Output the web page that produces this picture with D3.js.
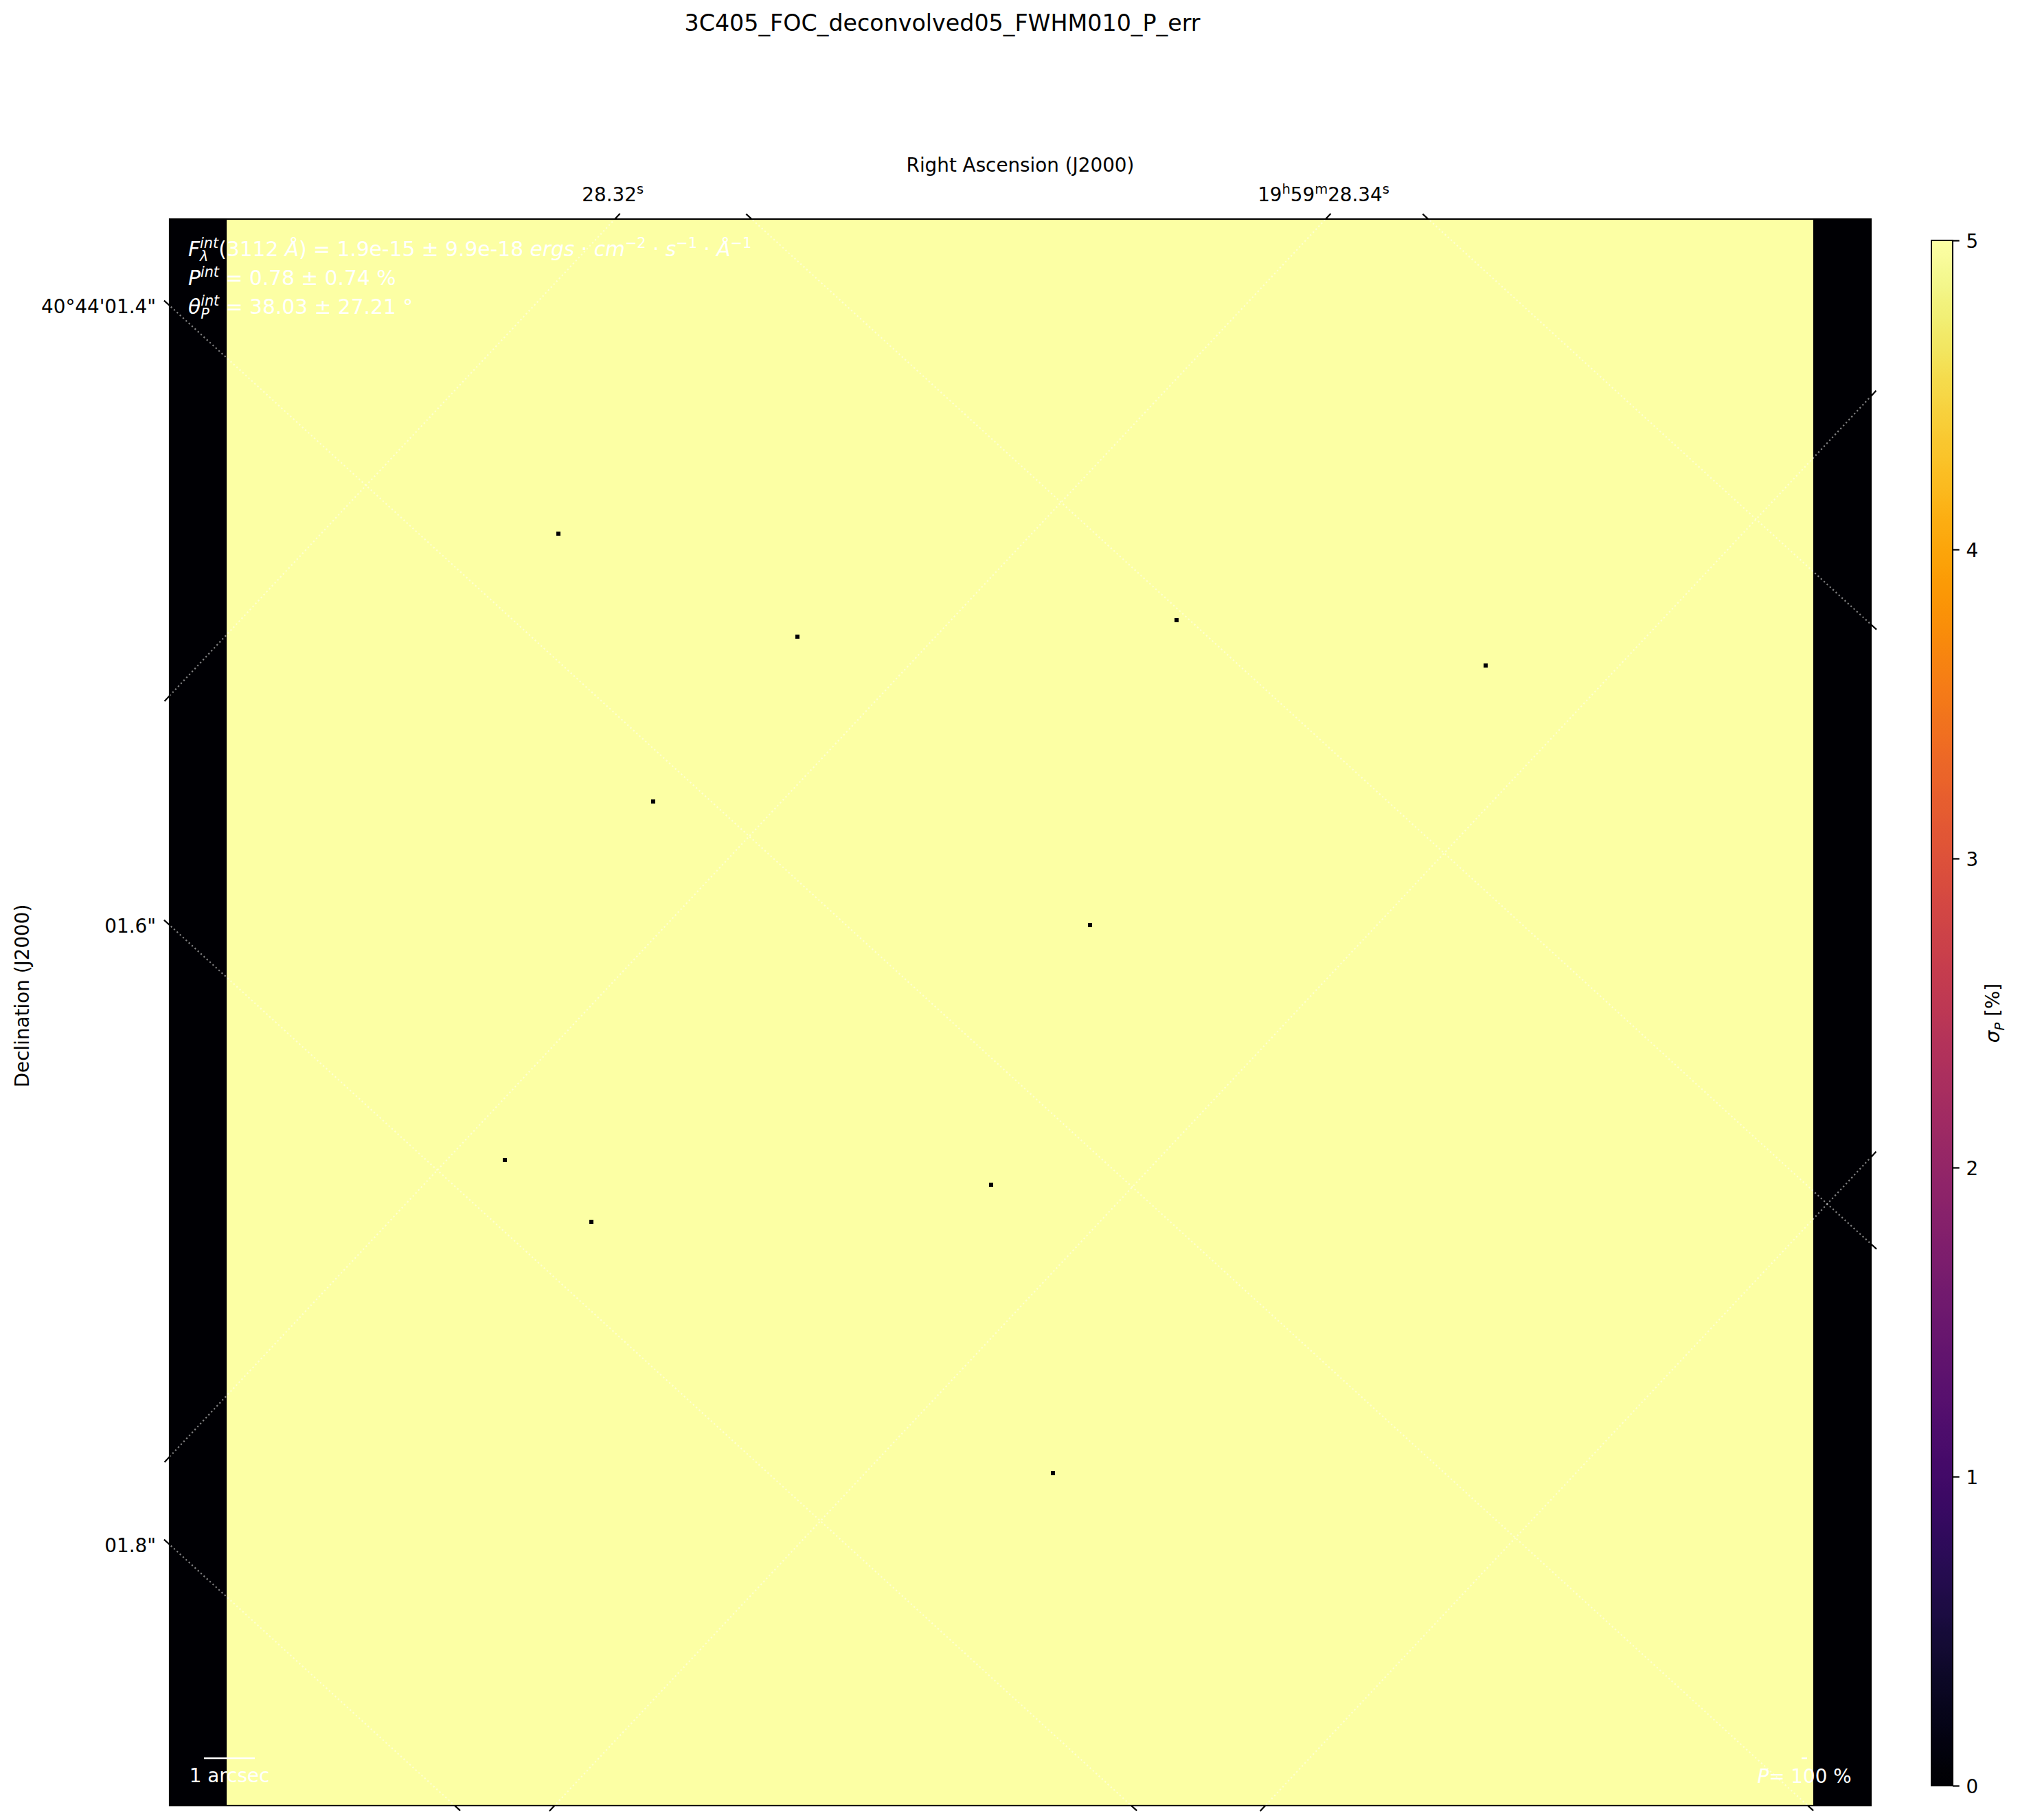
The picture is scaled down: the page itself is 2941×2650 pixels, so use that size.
<!DOCTYPE html>
<html><head><meta charset="utf-8">
<script src="https://cdn.jsdelivr.net/npm/d3@7"></script>
<style>
body{margin:0;background:#fff}
svg{display:block}
text{font-family:"DejaVu Sans",sans-serif;white-space:pre}
</style>
</head><body>
<svg id="chart" width="2941" height="2650"></svg>
<script>
// ---------------- data ----------------
const figureTitle = "3C405_FOC_deconvolved05_FWHM010_P_err";
const imageShape = [413, 385];                 // columns, rows of the P_err map
const saturatedValue = 5;                      // everything else is >= vmax
const blankColumnRanges = [[0, 13], [399, 412]]; // value 0 strips
const zeroPixels = [[94,76],[152,101],[244,97],[319,108],[117,141],
                    [223,171],[81,228],[102,243],[199,234],[214,304]];
const colorbarDomain = [0, 5];
const colorbarTicks = [0, 1, 2, 3, 4, 5];
const colorbarLabel = [["σ","i"],["P","sub-i"],[" [%]",""]];
const raGridValues = [28.32, 28.34, 28.36, 28.38];           // seconds
const raTickLabels = ["28.32^s", "19^h59^m28.34^s", "", ""];
const decGridValues = [1.0, 1.2, 1.4, 1.6, 1.8];              // arcsec
const decTickLabels = ["", "", "40°44'01.4\"", "01.6\"", "01.8\""];
const xAxisLabel = "Right Ascension (J2000)";
const yAxisLabel = "Declination (J2000)";
const wavelength = "3112";
const fluxValues = ["1.9e-15", "9.9e-18"];
const polValues = ["0.78", "0.74"];
const angleValues = ["38.03", "27.21"];
const scaleBarLabel = "1 arcsec";
const vectorScaleValue = "100";

// ---------------- layout ----------------
const FS = 27.8;            // 10pt at 200 dpi
const FSA = 29.7;           // annotation font
const L = 247, R = 2724, T = 319, B = 2629;
const decSlope = 0.9157, raSlope = -1.0707;
const svg = d3.select("#chart");

const xPix = d3.scaleLinear().domain([0, imageShape[0]]).range([246, 246 + imageShape[0] * 6]);
const yPix = d3.scaleLinear().domain([0, imageShape[1]]).range([318, 318 + imageShape[1] * 6]);
const color = d3.scaleSequential(d3.interpolateInferno).domain(colorbarDomain);
// world coordinate -> y of the grid line where it meets x = L
const decScale = d3.scaleLinear().domain([1.4, 1.6]).range([445, 1347]);
const raScale = d3.scaleLinear().domain([28.32, 28.34]).range([1013, 2121]);

// ---------------- rich text helper ----------------
function put(g, x, y, seg, size, fill) {
  const kind = seg[1] || "";
  const small = kind.includes("sup") || kind.includes("sub");
  const dy = kind.includes("sup") ? -0.40 * size : kind.includes("sub") ? 0.25 * size : 0;
  return g.append("text").attr("x", x).attr("y", y + dy)
    .attr("font-size", small ? size * 0.7 : size)
    .attr("font-style", kind.includes("i") ? "italic" : "normal")
    .attr("fill", fill).text(seg[0]);
}
function rich(parent, x, y, segs, size, fill, anchor) {
  const g = parent.append("g");
  let cx = x;
  segs.forEach(seg => {
    if (Array.isArray(seg[0])) {
      let w = 0;
      seg.forEach(s => { w = Math.max(w, put(g, cx, y, s, size, fill).node().getComputedTextLength()); });
      cx += w;
    } else {
      cx += put(g, cx, y, seg, size, fill).node().getComputedTextLength();
    }
  });
  const w = cx - x;
  if (anchor === "middle") g.attr("transform", `translate(${-w / 2},0)`);
  if (anchor === "end") g.attr("transform", `translate(${-w},0)`);
  return g;
}
function parseSup(str) {
  const out = [];
  str.split(/(\^\w)/).forEach(p => { if (!p) return; if (p[0] === "^") out.push([p.slice(1), "sup"]); else out.push([p, ""]); });
  return out;
}

// ---------------- title ----------------
svg.append("text").attr("x", 1372).attr("y", 45).attr("text-anchor", "middle")
  .attr("font-size", 33.3).text(figureTitle);

// ---------------- image ----------------
const defs = svg.append("defs");
defs.append("clipPath").attr("id", "axclip").append("rect")
  .attr("x", L).attr("y", T).attr("width", R - L).attr("height", B - T);
const img = svg.append("g").attr("clip-path", "url(#axclip)");
img.append("rect").attr("x", xPix(0)).attr("y", yPix(0))
  .attr("width", xPix(imageShape[0]) - xPix(0)).attr("height", yPix(imageShape[1]) - yPix(0))
  .attr("fill", color(Math.min(saturatedValue, colorbarDomain[1])));
img.selectAll("rect.blank").data(blankColumnRanges).join("rect").attr("class", "blank")
  .attr("x", d => xPix(d[0])).attr("y", yPix(0))
  .attr("width", d => xPix(d[1] + 1) - xPix(d[0])).attr("height", yPix(imageShape[1]) - yPix(0))
  .attr("fill", color(0)).attr("shape-rendering", "crispEdges");
img.selectAll("rect.zero").data(zeroPixels).join("rect").attr("class", "zero")
  .attr("x", d => xPix(d[0])).attr("y", d => yPix(d[1]))
  .attr("width", xPix(1) - xPix(0)).attr("height", yPix(1) - yPix(0))
  .attr("fill", color(0)).attr("shape-rendering", "crispEdges");

// ---------------- coordinate grid ----------------
const lines = [];
decGridValues.forEach((v, i) => lines.push({ y0: decScale(v), m: decSlope, kind: "dec", label: decTickLabels[i] }));
raGridValues.forEach((v, i) => lines.push({ y0: raScale(v), m: raSlope, kind: "ra", label: raTickLabels[i] }));
const yAt = (ln, x) => ln.y0 + ln.m * (x - L);
img.selectAll("line.grid").data(lines).join("line").attr("class", "grid")
  .attr("x1", L - 20).attr("y1", d => yAt(d, L - 20))
  .attr("x2", R + 20).attr("y2", d => yAt(d, R + 20))
  .attr("stroke", "#fff").attr("stroke-opacity", 0.5).attr("stroke-width", 2.22)
  .attr("stroke-dasharray", "2.22,3.67");

// ticks: where the grid lines cross the frame, drawn outward along the line
const ticks = [];
lines.forEach(ln => {
  const n = Math.hypot(1, ln.m), ux = 1 / n, uy = ln.m / n;
  const yl = yAt(ln, L), yr = yAt(ln, R);
  if (yl >= T && yl <= B) ticks.push({ x: L, y: yl, dx: -ux, dy: -uy, ln, edge: "left" });
  if (yr >= T && yr <= B) ticks.push({ x: R, y: yr, dx: ux, dy: uy, ln, edge: "right" });
  const xt = L + (T - ln.y0) / ln.m, xb = L + (B - ln.y0) / ln.m;
  const s = uy > 0 ? 1 : -1;
  if (xt >= L && xt <= R) ticks.push({ x: xt, y: T, dx: -s * ux, dy: -s * uy, ln, edge: "top" });
  if (xb >= L && xb <= R) ticks.push({ x: xb, y: B, dx: s * ux, dy: s * uy, ln, edge: "bottom" });
});
const TL = 11;
svg.append("g").selectAll("line").data(ticks).join("line")
  .attr("x1", d => d.x).attr("y1", d => d.y)
  .attr("x2", d => d.x + d.dx * TL).attr("y2", d => d.y + d.dy * TL)
  .attr("stroke", "#000").attr("stroke-width", 2.2);

// frame
svg.append("rect").attr("x", L).attr("y", T).attr("width", R - L).attr("height", B - T)
  .attr("fill", "none").attr("stroke", "#000").attr("stroke-width", 2.2);

// tick labels
const labG = svg.append("g");
ticks.filter(t => t.edge === "left" && t.ln.kind === "dec" && t.ln.label).forEach(t => {
  labG.append("text").attr("x", 227).attr("y", t.y + 11).attr("text-anchor", "end")
    .attr("font-size", FS).text(t.ln.label);
});
ticks.filter(t => t.edge === "top" && t.ln.kind === "ra" && t.ln.label).forEach(t => {
  rich(labG, t.x - 3, 293, parseSup(t.ln.label), FS, "#000", "middle");
});

// axis labels
svg.append("text").attr("x", (L + R) / 2).attr("y", 250).attr("text-anchor", "middle")
  .attr("font-size", FS).text(xAxisLabel);
svg.append("text").attr("transform", "translate(42,1450) rotate(-90)").attr("text-anchor", "middle")
  .attr("font-size", FS).text(yAxisLabel);

// ---------------- annotations ----------------
const ann = svg.append("g");
rich(ann, 274, 373, [
  ["F", "i"], [["int", "sup-i"], ["λ", "sub-i"]],
  [`(${wavelength} `, ""], ["Å", "i"], [`) = ${fluxValues[0]} ± ${fluxValues[1]} `, ""],
  ["ergs", "i"], [" · ", ""], ["cm", "i"], ["−2", "sup"], [" · ", ""], ["s", "i"], ["−1", "sup"],
  [" · ", ""], ["Å", "i"], ["−1", "sup"]
], FSA, "#fff");
rich(ann, 274, 415, [
  ["P", "i"], ["int", "sup-i"], [` = ${polValues[0]} ± ${polValues[1]} %`, ""]
], FSA, "#fff");
rich(ann, 274, 457, [
  ["θ", "i"], [["int", "sup-i"], ["P", "sub-i"]], [` = ${angleValues[0]} ± ${angleValues[1]} °`, ""]
], FSA, "#fff");

// 1 arcsec scale bar
ann.append("line").attr("x1", 297).attr("x2", 371).attr("y1", 2560).attr("y2", 2560)
  .attr("stroke", "#fff").attr("stroke-width", 2.5);
ann.append("text").attr("x", 334).attr("y", 2595).attr("text-anchor", "middle")
  .attr("font-size", FS).attr("fill", "#fff").text(scaleBarLabel);
// polarisation vector scale
ann.append("line").attr("x1", 2623).attr("x2", 2631).attr("y1", 2560).attr("y2", 2560)
  .attr("stroke", "#fff").attr("stroke-width", 2.5);
rich(ann, 2627, 2596, [["P", "i"], [`= ${vectorScaleValue} %`, ""]], FS, "#fff", "middle");

// ---------------- colorbar ----------------
const cbX = 2812, cbW = 31;
const cbScale = d3.scaleLinear().domain(colorbarDomain).range([2600, 350]);
const grad = defs.append("linearGradient").attr("id", "cbgrad")
  .attr("x1", 0).attr("y1", 1).attr("x2", 0).attr("y2", 0);
d3.range(0, 1.0001, 0.01).forEach(t => grad.append("stop").attr("offset", t)
  .attr("stop-color", color(colorbarDomain[0] + t * (colorbarDomain[1] - colorbarDomain[0]))));
svg.append("rect").attr("x", cbX).attr("y", cbScale(colorbarDomain[1]))
  .attr("width", cbW).attr("height", cbScale(colorbarDomain[0]) - cbScale(colorbarDomain[1]))
  .attr("fill", "url(#cbgrad)").attr("stroke", "#000").attr("stroke-width", 2);
const cbAxis = svg.append("g").attr("transform", `translate(${cbX + cbW},0)`)
  .call(d3.axisRight(cbScale).tickValues(colorbarTicks).tickFormat(d3.format("d"))
    .tickSize(9.7).tickPadding(9.7));
cbAxis.select(".domain").remove();
cbAxis.selectAll(".tick line").attr("stroke-width", 2.2);
cbAxis.selectAll(".tick text").attr("font-size", FS).attr("font-family", "DejaVu Sans").attr("dy", "0.36em");
const cbl = svg.append("g").attr("transform", "translate(2911,1475) rotate(-90)");
rich(cbl, 0, 0, colorbarLabel, FS, "#000", "middle");
</script>
</body></html>
